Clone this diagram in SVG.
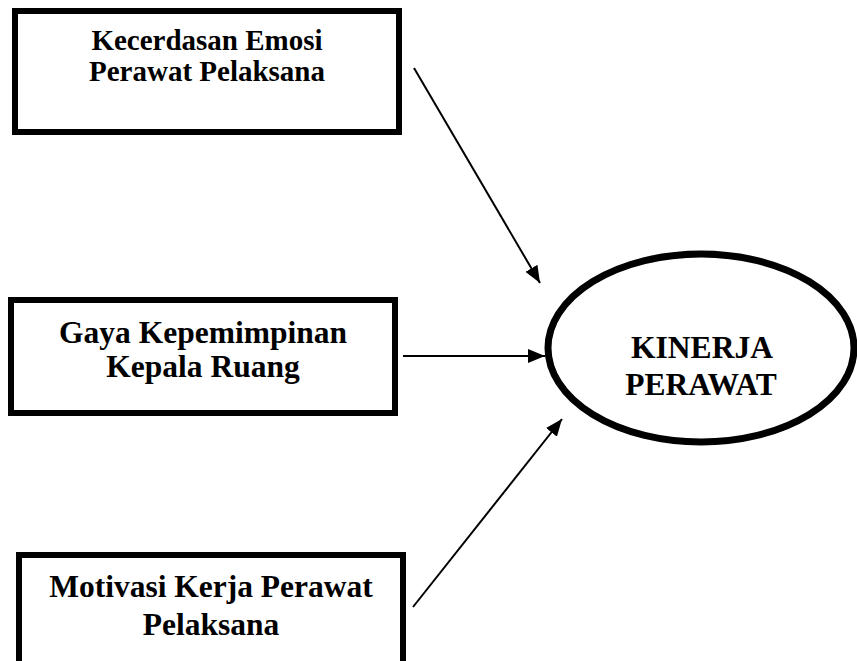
<svg xmlns="http://www.w3.org/2000/svg" width="857" height="661" viewBox="0 0 857 661">
<style>
.box{fill:#fff;stroke:#000;stroke-width:6}
.ell{fill:#fff;stroke:#000;stroke-width:7}
.t{font-family:"Liberation Serif","Times New Roman",serif;font-weight:bold;fill:#000;text-anchor:middle}
.conn{stroke:#000;stroke-width:2;fill:none;marker-end:url(#ah)}
</style>
<defs>
<marker id="ah" markerUnits="userSpaceOnUse" markerWidth="18" markerHeight="14" refX="17" refY="7" orient="auto">
<path d="M0,0 L17,7 L0,14 Z" fill="#000"/>
</marker>
</defs>
<rect width="857" height="661" fill="#fff"/>
<g id="connectors">
<line class="conn" x1="414" y1="68" x2="540" y2="283"/>
<line class="conn" x1="403" y1="356" x2="545" y2="356"/>
<line class="conn" x1="413" y1="607" x2="562" y2="419"/>
</g>
<g id="node-kecerdasan">
<rect class="box" x="15" y="11" width="384" height="121"/>
<text class="t" x="207" y="50" font-size="29">Kecerdasan Emosi</text>
<text class="t" x="207" y="81" font-size="29">Perawat Pelaksana</text>
</g>
<g id="node-gaya">
<rect class="box" x="11" y="300" width="384" height="113"/>
<text class="t" x="203" y="343" font-size="31.5">Gaya Kepemimpinan</text>
<text class="t" x="203" y="377" font-size="31.5">Kepala Ruang</text>
</g>
<g id="node-motivasi">
<rect class="box" x="19" y="555" width="384" height="125"/>
<text class="t" x="211" y="597" font-size="31.5">Motivasi Kerja Perawat</text>
<text class="t" x="211" y="635" font-size="31.5">Pelaksana</text>
</g>
<g id="node-kinerja">
<ellipse class="ell" cx="701" cy="348" rx="153" ry="94"/>
<text class="t" x="702" y="358" font-size="31.5">KINERJA</text>
<text class="t" x="701" y="395" font-size="31.5">PERAWAT</text>
</g>
</svg>
